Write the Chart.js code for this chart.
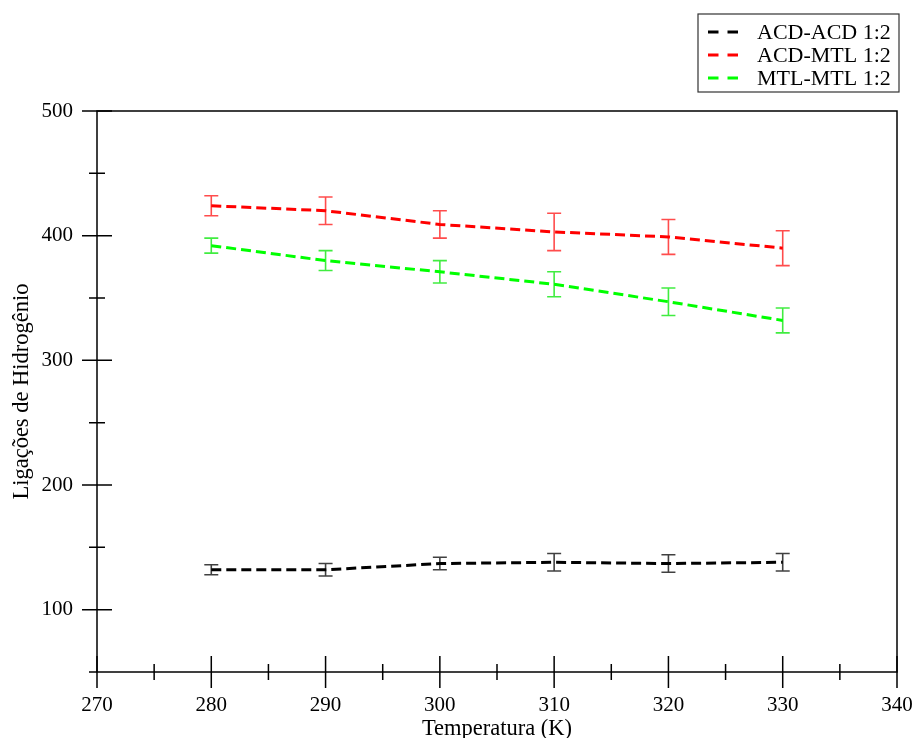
<!DOCTYPE html>
<html>
<head>
<meta charset="utf-8">
<script src="https://cdn.jsdelivr.net/npm/chart.js@4"></script>
<style>
  html, body { margin: 0; padding: 0; background: #fff; }
  #wrap { width: 917px; height: 738px; }
</style>
</head>
<body>
<div id="wrap"><canvas id="chart" width="917" height="738"></canvas></div>
<script>
// data
const temperatures = [280, 290, 300, 310, 320, 330];
const acdAcd = [132, 132, 137, 138, 137, 138];
const acdAcdErr = [4, 5, 5, 7, 7, 7];
const acdMtl = [424, 420, 409, 403, 399, 390];
const acdMtlErr = [8, 11, 11, 15, 14, 14];
const mtlMtl = [392, 380, 371, 361, 347, 332];
const mtlMtlErr = [6, 8, 9, 10, 11, 10];
const seriesLabels = ['ACD-ACD 1:2', 'ACD-MTL 1:2', 'MTL-MTL 1:2'];
const yTicks = [100, 200, 300, 400, 500];
const yMinor = [150, 250, 350, 450];
const xTicks = [270, 280, 290, 300, 310, 320, 330, 340];
const xMinor = [275, 285, 295, 305, 315, 325, 335];

const FONT = 'Liberation Serif, Times New Roman, serif';

const makeSet = (label, values, errs, color, errColor) => ({
  label,
  data: temperatures.map((t, i) => ({ x: t, y: values[i], err: errs[i] })),
  borderColor: color,
  errColor,
  borderWidth: 3,
  borderDash: [10, 5],
  pointRadius: 0,
  fill: false,
  tension: 0,
});

// frame, crossing ticks, error bars and boxed legend
const decor = {
  id: 'decor',
  beforeDatasetsDraw(chart) {
    const { ctx, scales: { x, y } } = chart;
    ctx.save();
    chart.data.datasets.forEach((ds) => {
      ctx.strokeStyle = ds.errColor;
      ctx.lineWidth = 1.6;
      ds.data.forEach((p) => {
        const px = x.getPixelForValue(p.x);
        const top = y.getPixelForValue(p.y + p.err);
        const bot = y.getPixelForValue(p.y - p.err);
        ctx.beginPath();
        ctx.moveTo(px, top); ctx.lineTo(px, bot);
        ctx.moveTo(px - 7, top); ctx.lineTo(px + 7, top);
        ctx.moveTo(px - 7, bot); ctx.lineTo(px + 7, bot);
        ctx.stroke();
      });
    });
    ctx.restore();
  },
  afterDraw(chart) {
    const { ctx, chartArea: a, scales: { x, y } } = chart;
    ctx.save();
    ctx.strokeStyle = '#000';
    ctx.lineWidth = 1.5;
    ctx.strokeRect(a.left, a.top, a.right - a.left, a.bottom - a.top);
    ctx.beginPath();
    yTicks.forEach((v) => {
      const py = y.getPixelForValue(v);
      ctx.moveTo(a.left - 15, py); ctx.lineTo(a.left + 15, py);
    });
    yMinor.forEach((v) => {
      const py = y.getPixelForValue(v);
      ctx.moveTo(a.left - 8, py); ctx.lineTo(a.left + 8, py);
    });
    xTicks.forEach((v) => {
      const px = x.getPixelForValue(v);
      ctx.moveTo(px, a.bottom - 16); ctx.lineTo(px, a.bottom + 16);
    });
    xMinor.forEach((v) => {
      const px = x.getPixelForValue(v);
      ctx.moveTo(px, a.bottom - 8); ctx.lineTo(px, a.bottom + 8);
    });
    ctx.moveTo(a.left - 8, a.bottom); ctx.lineTo(a.left, a.bottom);
    ctx.stroke();

    // legend
    const lx = 698, ly = 14, lw = 201, lh = 78;
    ctx.fillStyle = '#fff';
    ctx.fillRect(lx, ly, lw, lh);
    ctx.lineWidth = 1.2;
    ctx.strokeStyle = '#333';
    ctx.strokeRect(lx, ly, lw, lh);
    ctx.font = '22px ' + FONT;
    ctx.textBaseline = 'middle';
    chart.data.datasets.forEach((ds, i) => {
      const cy = ly + 18 + i * 23;
      ctx.strokeStyle = ds.borderColor;
      ctx.lineWidth = 3;
      ctx.setLineDash([10.5, 9]);
      ctx.beginPath();
      ctx.moveTo(708, cy); ctx.lineTo(738, cy);
      ctx.stroke();
      ctx.setLineDash([]);
      ctx.fillStyle = '#000';
      ctx.fillText(ds.label, 757, cy + 1);
    });
    ctx.restore();
  },
};

new Chart(document.getElementById('chart'), {
  type: 'line',
  data: {
    datasets: [
      makeSet(seriesLabels[0], acdAcd, acdAcdErr, '#000000', 'rgba(0,0,0,0.75)'),
      makeSet(seriesLabels[1], acdMtl, acdMtlErr, '#ff0000', 'rgba(255,0,0,0.7)'),
      makeSet(seriesLabels[2], mtlMtl, mtlMtlErr, '#00ff00', 'rgba(0,230,0,0.75)'),
    ],
  },
  options: {
    responsive: false,
    animation: false,
    layout: { padding: { top: 111, right: 20, left: 0, bottom: 0 } },
    plugins: { legend: { display: false }, tooltip: { enabled: false } },
    scales: {
      x: {
        type: 'linear',
        min: 270,
        max: 340,
        afterBuildTicks: (s) => { s.ticks = xTicks.map((v) => ({ value: v })); },
        afterFit: (s) => { s.height = 66; s.paddingLeft = 0; s.paddingRight = 0; },
        grid: { display: false, drawTicks: false },
        border: { display: false },
        ticks: { color: '#000', padding: 21, font: { family: FONT, size: 21 } },
        title: {
          display: true,
          text: 'Temperatura (K)',
          color: '#000',
          padding: { top: 0, bottom: -5 },
          font: { family: FONT, size: 22.5 },
        },
      },
      y: {
        type: 'linear',
        min: 50,
        max: 500,
        afterBuildTicks: (s) => { s.ticks = yTicks.map((v) => ({ value: v })); },
        afterFit: (s) => { s.width = 97; s.paddingTop = 0; s.paddingBottom = 0; },
        grid: { display: false, drawTicks: false },
        border: { display: false },
        ticks: { color: '#000', padding: 24, font: { family: FONT, size: 21 } },
        title: {
          display: true,
          text: 'Ligações de Hidrogênio',
          color: '#000',
          padding: { top: 9, bottom: 0 },
          font: { family: FONT, size: 22.5 },
        },
      },
    },
  },
  plugins: [decor],
});
</script>
</body>
</html>
